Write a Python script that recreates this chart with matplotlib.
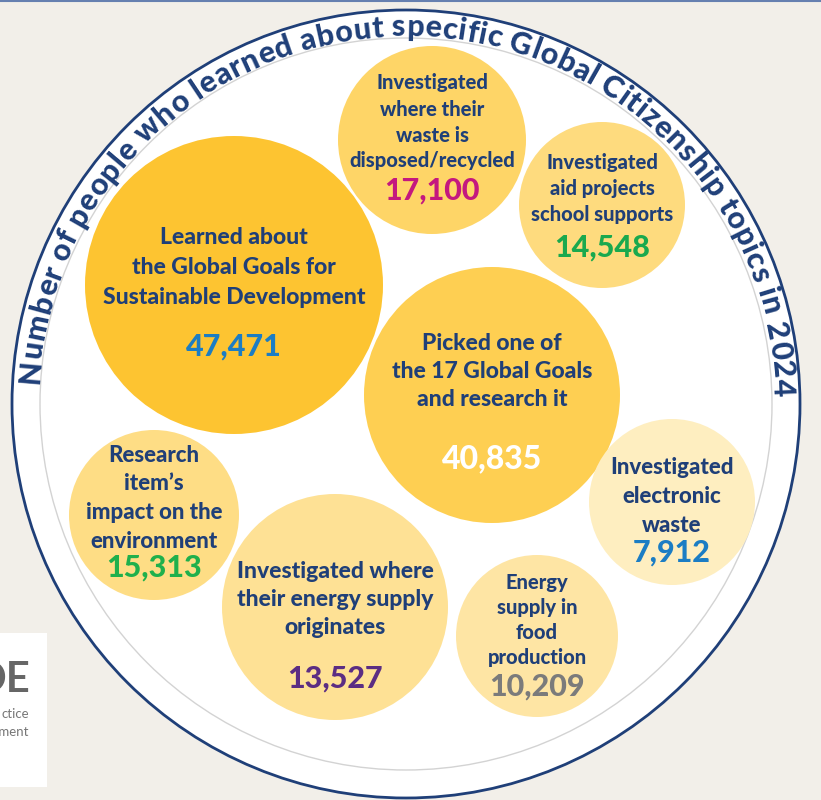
import numpy as np
import matplotlib.pyplot as plt
from matplotlib.patches import Circle, Rectangle
from matplotlib.font_manager import FontProperties

W, H = 821, 800
FONT = "Lato"
NAVY = "#1f3f78"

title = "Number of people who learned about specific Global Citizenship topics in 2024"

labels = [
    "Learned about\nthe Global Goals for\nSustainable Development",
    "Picked one of\nthe 17 Global Goals\nand research it",
    "Investigated\nwhere their\nwaste is\ndisposed/recycled",
    "Investigated\naid projects\nschool supports",
    "Research\nitem\u2019s\nimpact on the\nenvironment",
    "Investigated where\ntheir energy supply\noriginates",
    "Energy\nsupply in\nfood\nproduction",
    "Investigated\nelectronic\nwaste",
]
values = [47471, 40835, 17100, 14548, 15313, 13527, 10209, 7912]
value_colors = ["#1b7dc4", "#ffffff", "#c4187f", "#1aa94e", "#1fb04c",
                "#5b2d83", "#7b7b7b", "#1b7dc4"]
bubble_colors = ["#fdc431", "#fecf52", "#fed567", "#fedb7e", "#fedd85",
                 "#fee195", "#fee5a4", "#feeec0"]

# layout, image pixels: cx, cy, r, first line y, line step, value y, label pt, value pt
layout = [
    (234, 285, 149, 238, 29.5, 347, 16.5, 22),
    (492, 395, 128, 343, 28.0, 459, 16.5, 23),
    (432, 140, 94, 83, 26.0, 191, 14.5, 22),
    (602, 205, 83, 163, 25.5, 248, 14.5, 22),
    (154, 515, 85, 455, 28.7, 568, 16, 22),
    (335, 607, 113, 572, 28.0, 679, 16.5, 22),
    (537, 636, 81, 582, 25.3, 687, 14.5, 22),
    (672, 502, 83, 468, 28.5, 553, 16, 22),
]

fig = plt.figure(figsize=(W / 100, H / 100), dpi=100, facecolor="#f2efe9")
ax = fig.add_axes([0, 0, 1, 1])
ax.set_xlim(0, W)
ax.set_ylim(0, H)
ax.set_aspect("equal")
ax.axis("off")

cx0, cy0 = 406, H - 404
ax.add_patch(Circle((cx0, cy0), 394, facecolor="white", edgecolor=NAVY, lw=2.0))
ax.add_patch(Circle((cx0, cy0), 366, facecolor="none", edgecolor="#d3d3d3", lw=1.0))

ax.plot([0, W], [H - 1, H - 1], color="#6680b0", lw=1.5)

# bubbles
for lab, val, vc, bc, (x, y, r, ly, step, vy, lfs, vfs) in zip(
        labels, values, value_colors, bubble_colors, layout):
    ax.add_patch(Circle((x, H - y), r, facecolor=bc, edgecolor="none"))
    for k, line in enumerate(lab.split("\n")):
        ax.text(x, H - (ly + k * step), line, ha="center", va="center",
                fontsize=lfs, fontweight="black", color=NAVY, family=FONT)
    ax.text(x, H - vy, f"{val:,}", ha="center", va="center",
            fontsize=vfs, fontweight="black", color=vc, family=FONT)

# curved title along the rim, letters spread to fill the arc
renderer = fig.canvas.get_renderer()
r_base = 368
span = np.radians(176)
mid = np.radians(89)
prop = FontProperties(family=FONT, weight="black", size=22)
total = renderer.get_text_width_height_descent(title, prop, ismath=False)[0]
stretch = (r_base * span) / total
start = mid + span / 2
for i, ch in enumerate(title):
    if ch == " ":
        continue
    right = renderer.get_text_width_height_descent(title[:i + 1], prop, ismath=False)[0]
    wc = renderer.get_text_width_height_descent(ch, prop, ismath=False)[0]
    th = start - (right - wc / 2) * stretch / r_base
    ax.text(cx0 + r_base * np.cos(th), cy0 + r_base * np.sin(th), ch,
            rotation=np.degrees(th) - 90, rotation_mode="anchor",
            ha="center", va="baseline", fontproperties=prop, color=NAVY)

# partial logo box, bottom left
ax.add_patch(Rectangle((0, H - 787), 47, 154, facecolor="white", edgecolor="none"))
ax.text(30, H - 680, "DE", ha="right", va="center", fontsize=30,
        fontweight="bold", color="#666666", family=FONT)
ax.text(29, H - 714, "ctice", ha="right", va="center", fontsize=9.5,
        color="#777777", family=FONT)
ax.text(29, H - 732, "nment", ha="right", va="center", fontsize=9.5,
        color="#777777", family=FONT)

fig.savefig("out.png", dpi=100, facecolor=fig.get_facecolor())
